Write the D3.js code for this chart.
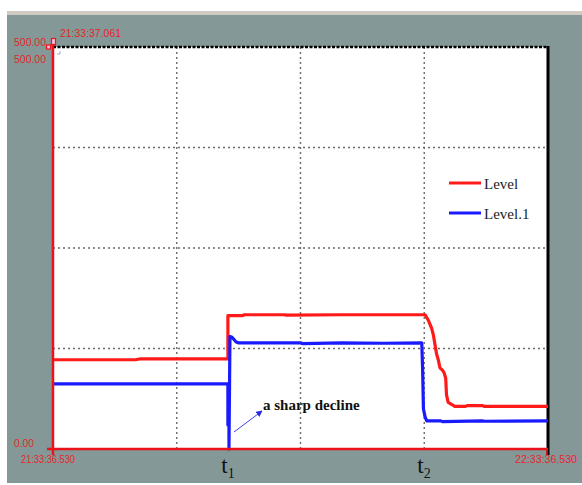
<!DOCTYPE html>
<html><head><meta charset="utf-8">
<script src="https://cdn.jsdelivr.net/npm/d3@7"></script>
<style>html,body{margin:0;padding:0;background:#fff;}svg{display:block;}</style>
</head><body>
<svg id="c" width="582" height="485"></svg>
<script>
// Time in minutes from 21:33:36.530, values in level units (0-500)
const levelTime  = [0, 10, 10.5, 21.2, 21.2, 23, 23.2, 28, 28.3, 35, 45.1, 45.5, 45.9, 46.1, 46.3, 46.5, 46.7, 46.9, 47.2, 47.4, 47.6, 47.7, 47.9, 48.4, 48.7, 50, 50.2, 52, 52.3, 60];
const levelVal   = [111, 111, 112, 112, 166, 166, 167, 167, 166.5, 167, 167, 160, 150, 142, 130, 118, 111, 101, 98, 95, 88, 67, 58, 55, 53, 53, 54, 54, 53, 53];
const level1Time = [0, 21.2, 21.2, 21.28, 21.28, 21.33, 21.33, 21.45, 21.7, 22.2, 22.5, 30, 30.3, 35, 40, 44.7, 44.8, 44.9, 45.1, 45.3, 47, 47.2, 52, 52.3, 60];
const level1Val  = [81, 81, 30, 80, 30, 30, 0, 140, 139, 133, 132, 132, 131, 132, 131.5, 132, 100, 50, 40, 35, 35, 34, 35, 34.5, 35];
const seriesNames = ["Level", "Level.1"];
const seriesColors = ["#ff1a1a", "#1a1aff"];
const xGridMinutes = [15, 30, 45];
const yGridValues = [125, 250, 375];
const timeLabels = ["21:33:36.530", "22:33:36.530", "21:33:37.061"];
const yLabels = ["500.00", "500.00", "0.00"];
const eventMarks = [{name: "1", t: 21.25}, {name: "2", t: 45.0}];
const annotation = "a sharp decline";

const svg = d3.select("#c");
const L = 53, R = 548, T = 47, B = 449;
const x = d3.scaleLinear().domain([0, 60]).range([L, R]);
const y = d3.scaleLinear().domain([0, 500]).range([B, T]);

// panel
svg.append("rect").attr("x", 7).attr("y", 11).attr("width", 575).attr("height", 4).attr("fill", "#cfcbc3");
svg.append("rect").attr("x", 7).attr("y", 15).attr("width", 575).attr("height", 468).attr("fill", "#849898");
svg.append("rect").attr("x", L).attr("y", T).attr("width", R - L).attr("height", B - T).attr("fill", "#fff");

// grid
const grid = svg.append("g").attr("stroke", "#6a6a6a").attr("stroke-width", 1.4).attr("stroke-dasharray", "2,3");
grid.selectAll(".vx").data(xGridMinutes).join("line")
  .attr("x1", d => x(d)).attr("x2", d => x(d)).attr("y1", T).attr("y2", B);
grid.selectAll(".hy").data(yGridValues).join("line")
  .attr("y1", d => y(d)).attr("y2", d => y(d)).attr("x1", L).attr("x2", R);

// borders
svg.append("line").attr("x1", L).attr("x2", R).attr("y1", T).attr("y2", T)
  .attr("stroke", "#000").attr("stroke-width", 2.5).attr("stroke-dasharray", "3,1.5");
svg.append("line").attr("x1", R).attr("x2", R).attr("y1", T - 1).attr("y2", B + 6)
  .attr("stroke", "#000").attr("stroke-width", 3);

// lines
const line = d3.line().x(d => x(d[0])).y(d => y(d[1]));
const s0 = levelTime.map((t, i) => [t, levelVal[i]]);
const s1 = level1Time.map((t, i) => [t, level1Val[i]]);
svg.append("path").datum(s0).attr("d", line).attr("fill", "none")
  .attr("stroke", seriesColors[0]).attr("stroke-width", 3.2).attr("stroke-linejoin", "round");
svg.append("path").datum(s1).attr("d", line).attr("fill", "none")
  .attr("stroke", seriesColors[1]).attr("stroke-width", 3.2).attr("stroke-linejoin", "round");

// axes (red) left & bottom
svg.append("line").attr("x1", L).attr("x2", L).attr("y1", 38).attr("y2", B + 6)
  .attr("stroke", "#e8141a").attr("stroke-width", 2.5);
svg.append("line").attr("x1", 47).attr("x2", R).attr("y1", B).attr("y2", B)
  .attr("stroke", "#e8141a").attr("stroke-width", 2.5);
svg.append("line").attr("x1", R - 1).attr("x2", R - 1).attr("y1", B).attr("y2", B + 6)
  .attr("stroke", "#e8141a").attr("stroke-width", 1.5);
// tiny markers
svg.append("rect").attr("x", 51.5).attr("y", 38.5).attr("width", 4).attr("height", 6)
  .attr("fill", "#fbd").attr("stroke", "#e8141a").attr("stroke-width", 1.2);
svg.append("rect").attr("x", 46.5).attr("y", 45).attr("width", 4).attr("height", 4)
  .attr("fill", "#fbd").attr("stroke", "#e8141a").attr("stroke-width", 1.2);
svg.append("path").attr("d", "M57,54 L60,54 L60,51").attr("stroke", "#8899bb").attr("fill", "none").attr("stroke-width", 0.8);

// red labels
const lab = (txt, xx, yy, w) => svg.append("text").attr("x", xx).attr("y", yy).text(txt)
  .attr("fill", "#e8242a").attr("font-family", "Liberation Sans, Arial, sans-serif")
  .attr("font-size", 10).attr("textLength", w).attr("lengthAdjust", "spacingAndGlyphs");
lab(timeLabels[2], 60, 37, 61);
lab(yLabels[0], 14, 46, 32);
lab(yLabels[1], 14, 63, 32);
lab(yLabels[2], 14, 447, 20);
lab(timeLabels[0], 21, 463, 54);
lab(timeLabels[1], 515, 463, 62);

// legend
const leg = svg.append("g");
seriesNames.forEach((n, i) => {
  const yy = 183 + i * 30;
  leg.append("line").attr("x1", 449).attr("x2", 481).attr("y1", yy).attr("y2", yy)
    .attr("stroke", seriesColors[i]).attr("stroke-width", 3);
  leg.append("text").attr("x", 484).attr("y", yy + 6).text(n)
    .attr("font-family", "Liberation Serif, Times New Roman, serif").attr("font-size", 15).attr("fill", "#222");
});

// event labels t1, t2
eventMarks.forEach(e => {
  const g = svg.append("text").attr("x", x(e.t) - 7).attr("y", 473)
    .attr("font-family", "Liberation Serif, Times New Roman, serif").attr("fill", "#111");
  g.append("tspan").text("t").attr("font-size", 23);
  g.append("tspan").text(e.name).attr("font-size", 14).attr("dy", 5);
});

// annotation
svg.append("defs").append("marker").attr("id", "ah").attr("viewBox", "0 0 10 10")
  .attr("refX", 9).attr("refY", 5).attr("markerWidth", 7).attr("markerHeight", 7).attr("orient", "auto")
  .append("path").attr("d", "M0,0 L10,5 L0,10 z").attr("fill", "#2a2ae0");
svg.append("line").attr("x1", 234).attr("y1", 432).attr("x2", 262).attr("y2", 411)
  .attr("stroke", "#2a2ae0").attr("stroke-width", 0.9).attr("marker-end", "url(#ah)");
svg.append("text").attr("x", 263).attr("y", 410).text(annotation)
  .attr("font-family", "Liberation Serif, Times New Roman, serif").attr("font-weight", "bold")
  .attr("font-size", 15).attr("fill", "#111");
</script>
</body></html>
